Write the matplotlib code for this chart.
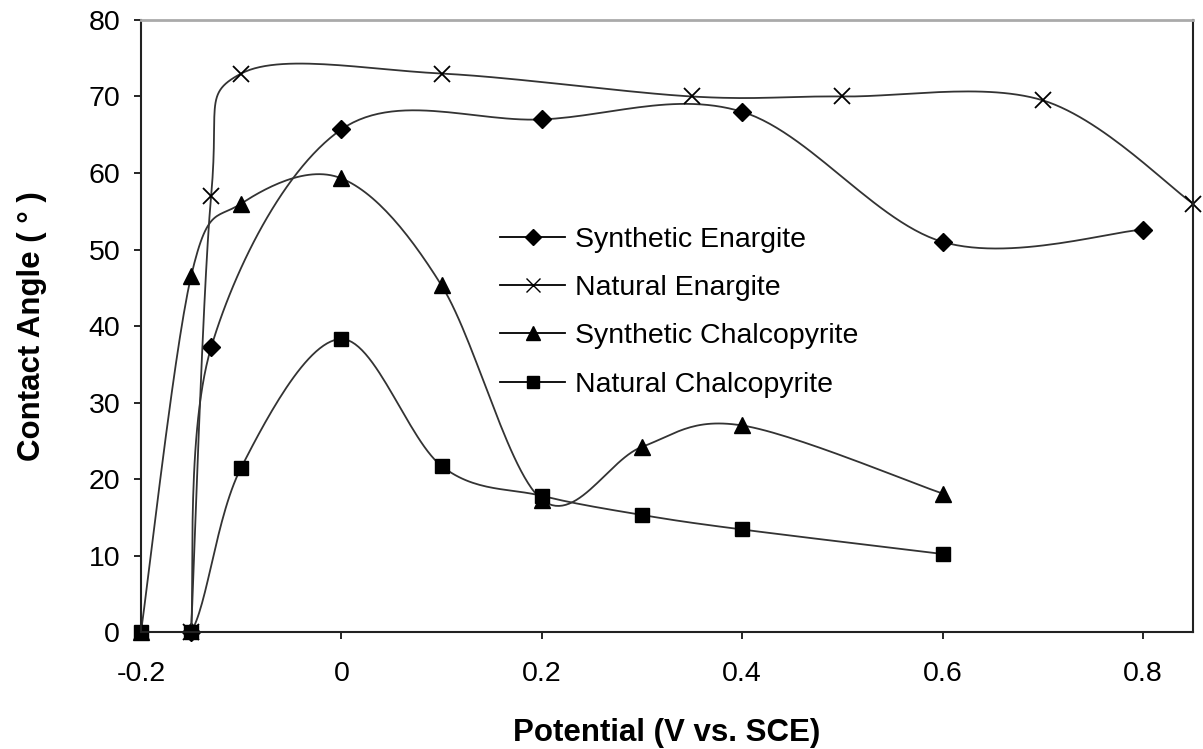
import numpy as np
import matplotlib
matplotlib.use("Agg")
import matplotlib.pyplot as plt

plt.rcParams['font.family'] = ['Liberation Sans', 'DejaVu Sans']

# data
syn_en_x = [-0.15, -0.13, 0.0, 0.2, 0.4, 0.6, 0.8]
syn_en_y = [0.0, 37.2, 65.7, 67.0, 68.0, 51.0, 52.6]

nat_en_x = [-0.15, -0.13, -0.1, 0.1, 0.35, 0.5, 0.7, 0.85]
nat_en_y = [0.0, 57.0, 73.0, 73.0, 70.0, 70.0, 69.5, 56.0]

syn_ch_x = [-0.2, -0.15, -0.1, 0.0, 0.1, 0.2, 0.3, 0.4, 0.6]
syn_ch_y = [0.0, 46.5, 56.0, 59.3, 45.3, 17.3, 24.2, 27.0, 18.1]

nat_ch_x = [-0.2, -0.15, -0.1, 0.0, 0.1, 0.2, 0.3, 0.4, 0.6]
nat_ch_y = [0.0, 0.0, 21.5, 38.3, 21.7, 17.8, 15.3, 13.4, 10.2]

series = [
    ("Synthetic Enargite", syn_en_x, syn_en_y, "D", 9),
    ("Natural Enargite", nat_en_x, nat_en_y, "x", 11),
    ("Synthetic Chalcopyrite", syn_ch_x, syn_ch_y, "^", 11),
    ("Natural Chalcopyrite", nat_ch_x, nat_ch_y, "s", 10),
]


# Excel-style smoothed line (cubic Bezier through the points)
def smooth(x, y, n=30):
    p = np.column_stack([x, y]).astype(float)
    out = [p[0]]
    for i in range(len(p) - 1):
        p0 = p[i - 1] if i > 0 else p[i]
        p1 = p[i]
        p2 = p[i + 1]
        p3 = p[i + 2] if i + 2 < len(p) else p[i + 1]
        c1 = p1 + (p2 - p0) / 6.0
        c2 = p2 - (p3 - p1) / 6.0
        t = np.linspace(0, 1, n)[1:, None]
        seg = ((1 - t) ** 3) * p1 + 3 * ((1 - t) ** 2) * t * c1 + 3 * (1 - t) * t ** 2 * c2 + t ** 3 * p2
        out.extend(seg)
    out = np.array(out)
    return out[:, 0], out[:, 1]


fig = plt.figure(figsize=(12.03, 7.49), dpi=100)
ax = fig.add_axes([0.1172, 0.1562, 0.8745, 0.8171])

for label, xs, ys, mk, ms in series:
    sx, sy = smooth(xs, ys)
    ax.plot(sx, sy, color='#333333', lw=1.3)
    ax.plot(xs, ys, linestyle='none', marker=mk, markersize=ms, color='black',
            markeredgewidth=1.3 if mk == 'x' else 1.0, clip_on=False)
    # legend proxy
    ax.plot([], [], color='black', lw=1.3, marker=mk, markersize=ms * 0.9, label=label)

ax.set_xlim(-0.2, 0.85)
ax.set_ylim(0, 80)
ax.set_xticks([-0.2, 0, 0.2, 0.4, 0.6, 0.8])
ax.set_xticklabels(['-0.2', '0', '0.2', '0.4', '0.6', '0.8'])
ax.set_yticks(np.arange(0, 81, 10))

ax.tick_params(axis='both', labelsize=20.5, direction='out', length=5, width=1.2, pad=10)
ax.tick_params(axis='x', pad=16)
for s in ['left', 'bottom', 'right']:
    ax.spines[s].set_linewidth(1.5)
    ax.spines[s].set_color('#222222')
ax.spines['top'].set_color('#aaaaaa')
ax.spines['top'].set_linewidth(2)

ax.set_xlabel('Potential (V vs. SCE)', fontsize=22.5, fontweight='bold', labelpad=22)
ax.set_ylabel('Contact Angle ( ° )', fontsize=22.5, fontweight='bold', labelpad=30)

leg = ax.legend(loc='upper left', bbox_to_anchor=(0.4156, 0.697),
                bbox_transform=fig.transFigure, frameon=False, borderpad=0,
                borderaxespad=0, fontsize=20.5, handlelength=2.3,
                labelspacing=0.78, handletextpad=0.35)

fig.savefig('out.png', dpi=100)
